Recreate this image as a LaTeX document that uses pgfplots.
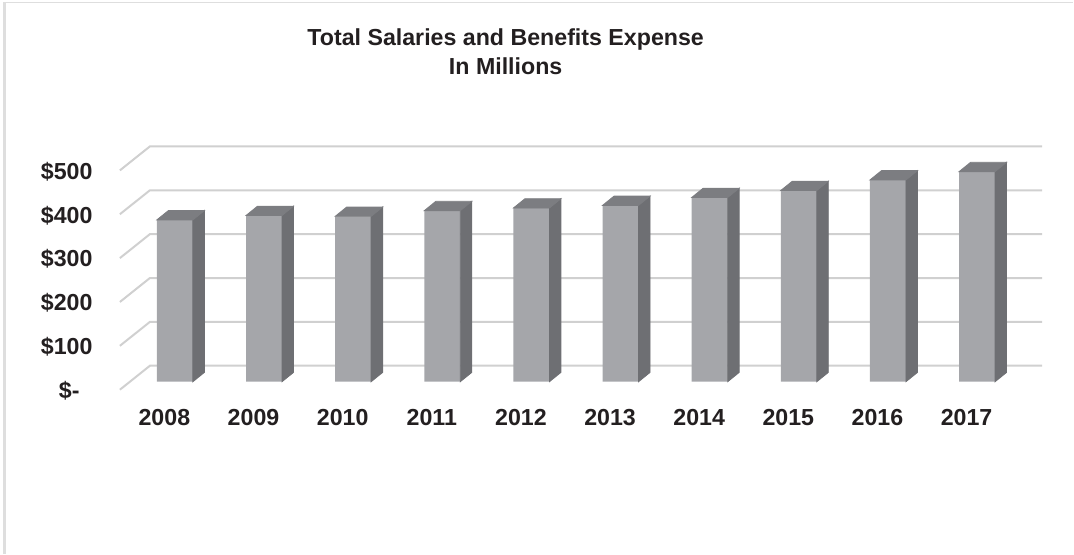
\documentclass[border=0pt]{standalone}
\usepackage{pgfplots}
\usepackage{pgfplotstable}
\usepackage{fontspec}
\setmainfont{Liberation Sans}
\pgfplotsset{compat=1.18}

\definecolor{barfront}{RGB}{165,166,170}
\definecolor{barside}{RGB}{110,111,115}
\definecolor{bartop}{RGB}{124,125,129}
\definecolor{gridgray}{RGB}{208,208,208}
\definecolor{framegray}{RGB}{222,222,222}
\definecolor{txt}{RGB}{35,31,32}

% total salaries and benefits, $ millions
\pgfplotstableread{
x  year v
0  2008 369
1  2009 379
2  2010 377
3  2011 390
4  2012 396
5  2013 402
6  2014 420
7  2015 436
8  2016 460
9  2017 479
}\salaries

% side and top of a 3d bar; mark sits on the top centre of the front face
% depth: 5.75pt right, 4.65pt up; 1 unit of value = 0.2195pt
\pgfdeclareplotmark{barbox}{%
  \pgfmathsetlengthmacro\barh{\barval*0.2195pt}%
  \fill[barside] (9pt,0pt) -- (14.75pt,4.65pt) -- (14.75pt,{4.65pt-\barh}) -- (9pt,{-\barh}) -- cycle;
  \fill[bartop] (-9pt,0pt) -- (9pt,0pt) -- (14.75pt,4.65pt) -- (-3.25pt,4.65pt) -- cycle;
}

\begin{document}
\begin{tikzpicture}
\begin{axis}[
    x=44.6pt, y=0.2195pt,
    xmin=-0.617, xmax=9.73,
    ymin=-18.2, ymax=536.45,
    axis line style={draw=none},
    tick style={draw=none},
    clip=false,
    xtick={0,...,9},
    xticklabels={2008,2009,2010,2011,2012,2013,2014,2015,2016,2017},
    ytick={-18.2,81.8,181.8,281.8,381.8,481.8},
    yticklabels={\$-\hphantom{0},\$100,\$200,\$300,\$400,\$500},
    tick label style={font=\fontsize{11.6}{14}\selectfont\bfseries, text=txt, inner sep=0pt},
    xticklabel style={anchor=base, xshift=-5.25pt, yshift=-17.75pt},
    yticklabel style={anchor=base east, xshift=-13.5pt, yshift=-4.4pt},
  ]
  % page size and frame
  \path (axis cs:-1.962,-391.8) rectangle (axis cs:10.079,870.2);
  \draw[framegray, line width=1.25pt] (axis cs:-1.909,-391.8) -- (axis cs:-1.909,864.9);
  \draw[framegray, line width=0.75pt] (axis cs:-1.909,864.9) -- (axis cs:10.079,864.9);

  % perspective gridlines: front edge, then back wall
  \pgfplotsinvokeforeach{0,100,200,300,400,500}{
    \draw[gridgray, line width=1pt] (axis cs:-0.617,{#1-18.2}) -- (axis cs:-0.280,{#1+36.45}) -- (axis cs:9.73,{#1+36.45});
  }

  \addplot[ybar, bar width=18pt, bar shift=0pt, fill=barfront, draw=none] table[x=x,y=v]{\salaries};
  \addplot[scatter, only marks, mark=barbox,
    visualization depends on={\thisrow{v}\as\barval},
    scatter/use mapped color={draw=none,fill=none}] table[x=x,y=v]{\salaries};

  \node[anchor=base, font=\fontsize{11.6}{14}\selectfont\bfseries, text=txt] at (axis cs:3.711,765.4) {Total Salaries and Benefits Expense};
  \node[anchor=base, font=\fontsize{11.6}{14}\selectfont\bfseries, text=txt] at (axis cs:3.711,699.3) {In Millions};
\end{axis}
\end{tikzpicture}
\end{document}
